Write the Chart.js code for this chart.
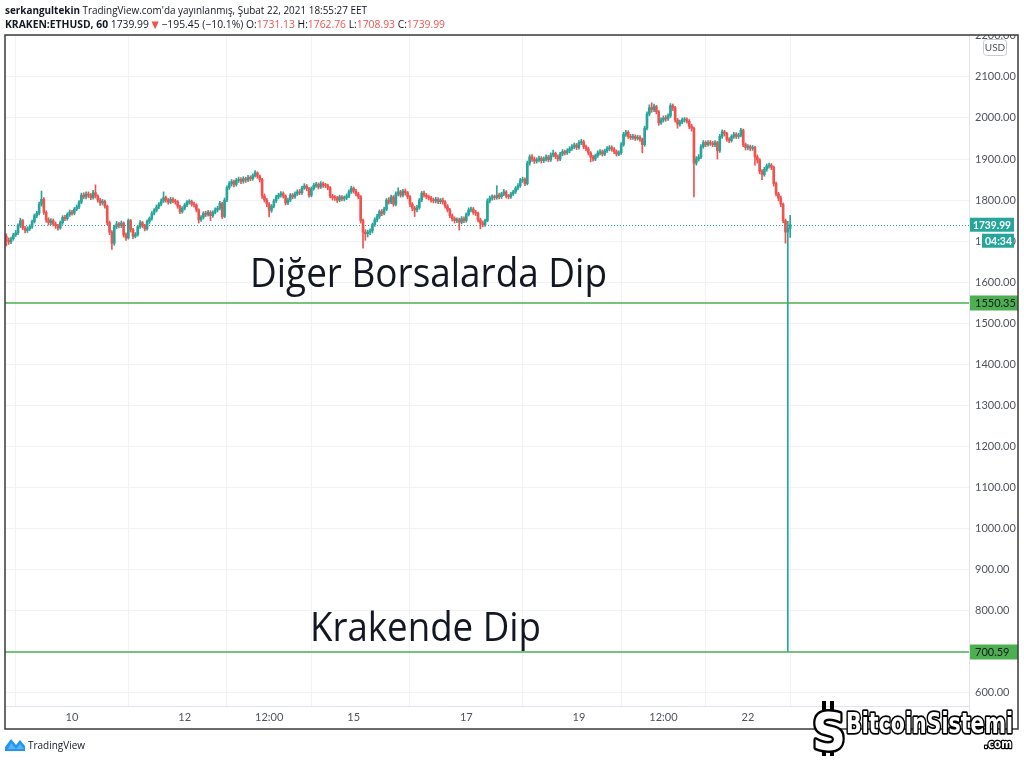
<!DOCTYPE html>
<html><head><meta charset="utf-8">
<script src="https://cdn.jsdelivr.net/npm/chart.js@4.4.1/dist/chart.umd.min.js"></script>
<style>html,body{margin:0;padding:0;background:#fff;}#wrap{width:1024px;height:760px;position:relative;}</style>
</head><body><div id="wrap"><canvas id="c" width="1024" height="760"></canvas></div>
<script>
// ---- DATA (KRAKEN:ETHUSD, 60 min) ----
const firstOpen = 1712;
const closes = [
1702,1698,1706,1715,1720,1738,1750,1732,1726,1730,
1735,1748,1762,1768,1790,1802,1770,1752,1745,1750,
1742,1738,1732,1745,1758,1755,1765,1771,1768,1778,
1783,1795,1812,1808,1815,1812,1806,1818,1810,1800,
1793,1797,1785,1745,1722,1695,1735,1742,1738,1744,
1715,1708,1750,1728,1712,1716,1735,1745,1738,1730,
1748,1755,1768,1775,1783,1790,1798,1806,1800,1795,
1802,1798,1796,1785,1772,1780,1788,1795,1796,1790,
1788,1776,1752,1758,1768,1765,1770,1762,1770,1776,
1780,1792,1760,1800,1830,1840,1845,1838,1848,1850,
1846,1852,1849,1855,1852,1860,1866,1858,1850,1810,
1800,1790,1775,1785,1798,1808,1812,1816,1810,1793,
1800,1812,1808,1815,1820,1818,1830,1834,1828,1812,
1828,1836,1838,1832,1840,1836,1835,1830,1810,1806,
1805,1800,1808,1803,1806,1810,1820,1829,1822,1815,
1808,1750,1722,1718,1722,1725,1740,1752,1760,1772,
1768,1778,1800,1795,1808,1790,1815,1820,1812,1822,
1818,1808,1790,1780,1776,1782,1800,1817,1812,1808,
1805,1800,1798,1802,1796,1800,1796,1785,1776,1762,
1755,1750,1752,1746,1755,1750,1765,1776,1778,1770,
1768,1752,1744,1740,1750,1798,1805,1808,1806,1812,
1808,1815,1820,1810,1808,1815,1820,1829,1835,1848,
1850,1840,1890,1905,1900,1895,1898,1902,1896,1900,
1905,1898,1910,1914,1906,1900,1912,1918,1915,1920,
1925,1930,1934,1928,1940,1942,1930,1925,1915,1905,
1900,1908,1915,1918,1912,1920,1925,1928,1924,1918,
1912,1915,1935,1960,1965,1955,1952,1955,1950,1953,
1948,1935,1975,2010,2025,2020,2028,2015,1988,1995,
2000,1998,2005,2030,2025,1995,1985,1990,1995,1996,
1992,1980,1975,1890,1900,1905,1930,1940,1935,1940,
1938,1935,1940,1920,1955,1966,1962,1948,1945,1955,
1960,1955,1958,1970,1935,1928,1930,1926,1928,1905,
1898,1870,1862,1875,1883,1885,1880,1840,1815,1805,
1790,1750,1722,1731.13,1739.99];
const highs = [
1718,1708,1710,1719,1726,1742,1756,1753,1736,1735,
1740,1751,1766,1773,1795,1822,1806,1774,1757,1755,
1754,1747,1741,1749,1762,1763,1769,1776,1775,1782,
1788,1799,1817,1818,1820,1820,1816,1824,1837,1813,
1804,1802,1800,1788,1749,1726,1739,1748,1746,1749,
1747,1720,1754,1753,1731,1721,1739,1750,1748,1741,
1752,1759,1772,1779,1788,1794,1803,1820,1810,1804,
1807,1806,1802,1799,1788,1784,1792,1799,1801,1800,
1795,1791,1779,1762,1772,1773,1775,1774,1774,1781,
1785,1797,1795,1805,1835,1845,1850,1849,1853,1856,
1855,1857,1856,1860,1859,1864,1872,1869,1861,1853,
1815,1804,1794,1789,1802,1812,1817,1821,1820,1813,
1805,1816,1816,1820,1825,1826,1834,1840,1838,1831,
1832,1841,1843,1842,1845,1844,1841,1839,1833,1814,
1811,1809,1812,1811,1810,1815,1825,1834,1832,1826,
1819,1811,1754,1728,1727,1730,1744,1757,1765,1776,
1777,1783,1804,1806,1812,1811,1820,1830,1824,1826,
1827,1821,1811,1794,1785,1787,1804,1821,1822,1816,
1812,1809,1805,1807,1806,1804,1805,1799,1789,1780,
1766,1759,1757,1756,1760,1759,1769,1781,1783,1782,
1775,1771,1756,1749,1754,1803,1810,1813,1812,1835,
1817,1819,1826,1823,1814,1819,1824,1833,1840,1853,
1856,1854,1895,1910,1911,1905,1903,1907,1906,1905,
1910,1909,1915,1922,1917,1910,1916,1923,1922,1925,
1930,1935,1939,1938,1945,1948,1946,1934,1929,1918,
1909,1912,1920,1923,1922,1924,1930,1933,1932,1928,
1922,1920,1940,1965,1970,1969,1960,1960,1959,1958,
1957,1951,1980,2015,2032,2037,2034,2031,2018,2000,
2005,2006,2010,2035,2034,2028,1999,1995,2000,2001,
2000,1996,1985,1978,1906,1911,1935,1945,1944,1945,
1945,1943,1945,1943,1960,1971,1970,1965,1952,1959,
1965,1964,1963,1975,1973,1939,1935,1934,1933,1931,
1910,1901,1874,1880,1888,1890,1889,1883,1844,1819,
1810,1793,1754,1748,1762.76];
const lows = [
1688,1692,1694,1702,1711,1716,1733,1728,1720,1721,
1726,1731,1744,1757,1764,1785,1765,1746,1739,1740,
1737,1731,1727,1729,1741,1750,1751,1760,1763,1764,
1774,1779,1791,1803,1803,1806,1801,1802,1805,1795,
1787,1788,1780,1740,1716,1680,1690,1730,1732,1733,
1710,1702,1705,1722,1706,1708,1712,1731,1733,1725,
1727,1743,1751,1764,1771,1779,1786,1794,1795,1790,
1791,1793,1790,1780,1767,1768,1776,1784,1790,1785,
1783,1771,1744,1748,1754,1760,1761,1750,1758,1766,
1771,1776,1755,1757,1796,1826,1834,1832,1834,1843,
1840,1841,1843,1845,1847,1848,1856,1853,1844,1804,
1795,1784,1759,1770,1781,1794,1803,1807,1805,1788,
1789,1796,1803,1804,1811,1813,1814,1826,1823,1807,
1808,1824,1831,1827,1828,1831,1830,1825,1805,1800,
1799,1794,1796,1798,1798,1801,1806,1816,1817,1810,
1803,1744,1683,1702,1710,1716,1720,1736,1747,1755,
1762,1764,1774,1790,1791,1785,1786,1810,1807,1808,
1812,1803,1784,1774,1760,1771,1778,1796,1807,1803,
1800,1795,1793,1793,1791,1791,1790,1780,1771,1757,
1749,1744,1745,1727,1742,1745,1746,1761,1771,1765,
1762,1747,1730,1735,1736,1747,1793,1800,1801,1802,
1803,1804,1811,1805,1803,1804,1811,1816,1825,1831,
1843,1835,1837,1885,1894,1889,1890,1893,1890,1891,
1895,1893,1894,1905,1901,1895,1896,1908,1910,1911,
1915,1921,1925,1923,1924,1935,1925,1920,1910,1893,
1895,1896,1904,1910,1907,1908,1916,1920,1919,1913,
1907,1908,1911,1931,1955,1950,1947,1948,1945,1946,
1943,1915,1931,1971,2005,2014,2015,2010,1982,1984,
1990,1992,1994,2001,2018,1990,1975,1980,1986,1990,
1987,1974,1968,1808,1885,1895,1901,1926,1930,1931,
1933,1930,1930,1900,1916,1950,1956,1943,1940,1941,
1950,1950,1950,1954,1930,1922,1922,1920,1921,1885,
1890,1864,1850,1858,1870,1878,1874,1834,1810,1798,
1784,1745,1695,700.59,1708.93];
// candle index 0 = Feb 8 20:00 ; tick positions in hours from there
const xTickPositions = [28, 76, 112, 148, 196, 244, 280, 316];
const xTickLabels = ['10', '12', '12:00', '15', '17', '19', '12:00', '22'];
const yTickValues = [600,700,800,900,1000,1100,1200,1300,1400,1500,1600,1700,1800,1900,2000,2100,2200];
const levelValues = [1550.35, 700.59];
const levelTexts = ['Diğer Borsalarda Dip', 'Krakende Dip'];
const changeText = '\u2212195.45 (\u221210.1%)';
const countdown = '04:34';
const headerLine1 = ["serkangultekin", " TradingView.com'da yayınlanmış, Şubat 22, 2021 18:55:27 EET"];
const symbolText = 'KRAKEN:ETHUSD, 60';

// ---- build ----
const UP = '#26a69a', DOWN = '#ef5350';
const opens = closes.map((c, i) => i === 0 ? firstOpen : closes[i - 1]);
const colors = closes.map((c, i) => c >= opens[i] ? UP : DOWN);
const last = closes.length - 1;
const lastPrice = closes[last];

const wickData = closes.map((c, i) => ({x: i, y: [lows[i], highs[i]]}));
const bodyData = closes.map((c, i) => ({x: i, y: [opens[i], closes[i]]}));

const TXT = '#131722';
function fitRuns(ctx, runs, x, y, width) {
  let total = 0;
  runs.forEach(r => { ctx.font = r.font; total += ctx.measureText(r.t).width; });
  const s = width / total;
  ctx.save(); ctx.translate(x, y); ctx.scale(s, 1);
  let cx = 0;
  runs.forEach(r => { ctx.font = r.font; ctx.fillStyle = r.color || TXT; ctx.fillText(r.t, cx, 0); cx += ctx.measureText(r.t).width; });
  ctx.restore();
}
function fitText(ctx, t, x, y, width, font, color, stroke, lw) {
  ctx.font = font;
  const m = ctx.measureText(t).width;
  ctx.save(); ctx.translate(x, y); ctx.scale(width / m, 1);
  if (stroke) { ctx.lineJoin = 'round'; ctx.strokeStyle = stroke; ctx.lineWidth = lw; ctx.strokeText(t, 0, 0); }
  ctx.fillStyle = color; ctx.fillText(t, 0, 0);
  ctx.restore();
}

const priceLine = {
  id: 'priceLine',
  beforeDatasetsDraw(chart) {
    const {ctx, chartArea: a, scales: {y}} = chart;
    const yp = Math.round(y.getPixelForValue(lastPrice)) + 0.5;
    ctx.save();
    ctx.strokeStyle = UP; ctx.lineWidth = 1; ctx.setLineDash([1, 2]);
    ctx.beginPath(); ctx.moveTo(a.left, yp); ctx.lineTo(a.right, yp); ctx.stroke();
    ctx.restore();
  }
};

const overlay = {
  id: 'overlay',
  afterDraw(chart) {
    const {ctx, chartArea: a, scales: {y}} = chart;
    const W = chart.width;
    ctx.save();
    // hide the top half of the 2200 label (cut by frame)
    ctx.fillStyle = '#fff'; ctx.fillRect(a.right + 1, 0, W - a.right, a.top);
    // level lines and labels
    levelValues.forEach((v, k) => {
      const yp = Math.round(y.getPixelForValue(v));
      ctx.strokeStyle = '#4caf50'; ctx.lineWidth = 1.6;
      ctx.beginPath(); ctx.moveTo(a.left, yp); ctx.lineTo(a.right, yp); ctx.stroke();
      ctx.fillStyle = '#4caf50';
      ctx.fillRect(a.right, yp - 7.5, 49, 15);
      ctx.fillStyle = TXT; ctx.font = '11px Lato'; ctx.textBaseline = 'middle'; ctx.textAlign = 'left';
      ctx.fillText(v.toFixed(2), a.right + 6, yp + 0.5);
    });
    // last price label + countdown
    const lp = y.getPixelForValue(lastPrice);
    ctx.fillStyle = UP;
    ctx.fillRect(a.right, lp - 7, 45, 14);
    ctx.fillRect(a.right + 13, lp + 9, 32, 14);
    ctx.fillStyle = '#fff'; ctx.textBaseline = 'middle';
    fitText(ctx, lastPrice.toFixed(2), a.right + 4, lp + 0.5, 38, 'bold 11px Lato', '#fff');
    fitText(ctx, countdown, a.right + 16, lp + 16.5, 27, 'bold 11px Lato', '#fff');
    // USD box
    ctx.strokeStyle = '#c8cbd3'; ctx.lineWidth = 1; ctx.fillStyle = '#fff';
    ctx.beginPath(); ctx.roundRect(983.5, 39.5, 23, 16, 3); ctx.fill(); ctx.stroke();
    ctx.fillStyle = '#50535e'; ctx.font = '10px Lato'; ctx.textAlign = 'center';
    ctx.fillText('USD', 995, 48);
    ctx.textAlign = 'left';
    // separators and frame
    ctx.strokeStyle = '#e0e3eb'; ctx.lineWidth = 1;
    ctx.beginPath(); ctx.moveTo(a.right + 0.5, a.top); ctx.lineTo(a.right + 0.5, 729); ctx.stroke();
    ctx.beginPath(); ctx.moveTo(a.left, a.bottom + 0.5); ctx.lineTo(a.right, a.bottom + 0.5); ctx.stroke();
    ctx.strokeStyle = '#3a3a3a'; ctx.lineWidth = 1.5;
    ctx.strokeRect(a.left, a.top, 1018 - a.left, 729 - a.top);
    // header
    ctx.textBaseline = 'alphabetic';
    fitRuns(ctx, [
      {t: headerLine1[0], font: 'bold 11px "Open Sans"'},
      {t: headerLine1[1], font: '11px "Open Sans"'}
    ], 5, 14, 362);
    fitRuns(ctx, [
      {t: symbolText, font: 'bold 11px "Open Sans"'},
      {t: ' ' + lastPrice.toFixed(2) + ' ', font: '11px "Open Sans"'},
      {t: '\u25BC', font: '10px "DejaVu Sans"', color: DOWN},
      {t: ' ' + changeText + ' O:', font: '11px "Open Sans"'},
      {t: opens[last].toFixed(2), font: '11px "Open Sans"', color: DOWN},
      {t: ' H:', font: '11px "Open Sans"'},
      {t: highs[last].toFixed(2), font: '11px "Open Sans"', color: DOWN},
      {t: ' L:', font: '11px "Open Sans"'},
      {t: lows[last].toFixed(2), font: '11px "Open Sans"', color: DOWN},
      {t: ' C:', font: '11px "Open Sans"'},
      {t: lastPrice.toFixed(2), font: '11px "Open Sans"', color: DOWN}
    ], 5, 28, 440);
    // annotations
    fitText(ctx, levelTexts[0], 250, 287, 357, '40px "Open Sans"', TXT);
    fitText(ctx, levelTexts[1], 310, 641, 231, '40px "Open Sans"', TXT);
    // TradingView logo
    ctx.fillStyle = '#2196f3';
    ctx.beginPath();
    ctx.moveTo(5, 751); ctx.lineTo(5, 747); ctx.lineTo(11, 739); ctx.lineTo(16, 745);
    ctx.lineTo(20, 740); ctx.lineTo(25, 746); ctx.lineTo(25, 751); ctx.closePath(); ctx.fill();
    ctx.fillStyle = '#5bb3f5';
    ctx.beginPath(); ctx.moveTo(11, 743); ctx.lineTo(16, 749); ctx.lineTo(20, 744); ctx.lineTo(24, 749); ctx.lineTo(8, 749); ctx.closePath(); ctx.fill();
    fitText(ctx, 'TradingView', 28, 749, 57, '11px "Open Sans"', '#131722');
    // BitcoinSistemi watermark
    ctx.fillStyle = '#000';
    ctx.fillRect(822, 701, 4, 9); ctx.fillRect(830, 701, 4, 9);
    ctx.fillRect(822, 746, 4, 10); ctx.fillRect(830, 746, 4, 10);
    fitText(ctx, 'S', 812, 750, 34, 'bold 52px "DejaVu Sans"', '#fff', '#000', 5);
    fitText(ctx, 'BitcoinSistemi', 846, 733, 167, 'bold 28px "DejaVu Sans Condensed"', '#fff', '#000', 3.5);
    fitText(ctx, '.com', 984, 748, 28, 'bold 13px "DejaVu Sans Condensed"', '#fff', '#000', 2.5);
    ctx.restore();
  }
};

new Chart(document.getElementById('c'), {
  type: 'bar',
  data: {
    datasets: [
      {label: 'wick', data: wickData, backgroundColor: colors, barThickness: 1, grouped: false, order: 2, borderWidth: 0},
      {label: 'body', data: bodyData, backgroundColor: colors, barThickness: 2, minBarLength: 1, grouped: false, order: 1, borderWidth: 0}
    ]
  },
  options: {
    responsive: false, animation: false, devicePixelRatio: 1,
    layout: {padding: {top: 35, left: 5, right: 6, bottom: 31}},
    plugins: {legend: {display: false}, tooltip: {enabled: false}},
    scales: {
      x: {
        type: 'linear', min: -0.55, max: 410.2, offset: false,
        afterBuildTicks: s => { s.ticks = xTickPositions.map(v => ({value: v})); },
        afterFit: s => { s.height = 23; },
        ticks: {autoSkip: false, maxRotation: 0, padding: 5, color: '#50535e', font: {family: 'Lato', size: 11},
          callback: v => xTickLabels[xTickPositions.indexOf(v)]},
        grid: {color: '#f0f2f5', drawTicks: false},
        border: {display: false}
      },
      y: {
        position: 'right', min: 568, max: 2202,
        afterBuildTicks: s => { s.ticks = yTickValues.map(v => ({value: v})); },
        afterFit: s => { s.width = 49; },
        ticks: {padding: 6, color: '#50535e', font: {family: 'Lato', size: 11}, callback: v => Number(v).toFixed(2)},
        grid: {color: '#f0f2f5', drawTicks: false},
        border: {display: false}
      }
    }
  },
  plugins: [priceLine, overlay]
});
</script></body></html>
